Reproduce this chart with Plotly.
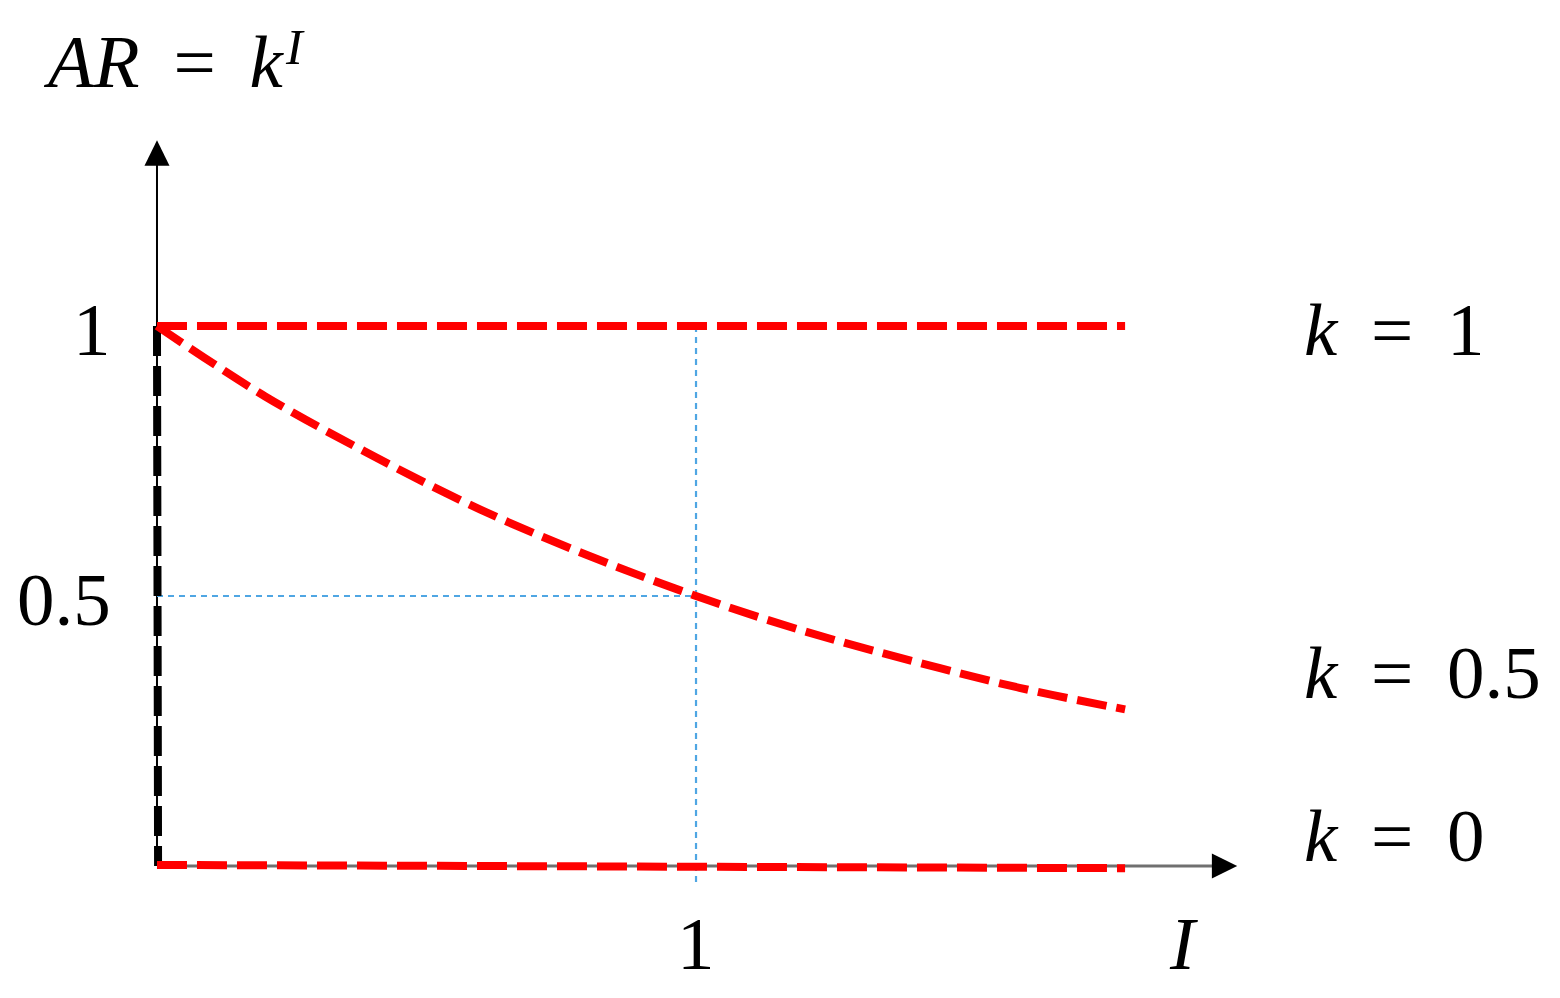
import plotly.graph_objects as go

# data
i_k1 = [0.0, 1.796]
ar_k1 = [1.0, 1.0]

i_k05 = [0.0, 0.2, 0.4, 0.6, 0.8, 1.0, 1.2, 1.4, 1.6, 1.796]
ar_k05 = [1.0, 0.87, 0.76, 0.66, 0.575, 0.5, 0.435, 0.38, 0.33, 0.29]

i_k0 = [0.0, 1.796]
ar_k0 = [0.002, -0.004]

i_zero = [0.0, 0.002]
ar_zero = [1.0, 0.0]

x_tick_vals = [1]
x_tick_text = ["1"]
y_tick_vals = [1, 0.5]
y_tick_text = ["1", "0.5"]

x_axis_end = 2.004
y_axis_end = 1.344

RED = "#FF0000"
BLUE = "#4FA6E3"
FONT = "Liberation Serif"
SP = "\u00a0\u2009"

fig = go.Figure()

# guide lines (blue dotted)
fig.add_trace(go.Scatter(
    x=[x_tick_vals[0], x_tick_vals[0]], y=[ar_k1[0], -0.03], mode="lines",
    line=dict(color=BLUE, width=2.2, dash="6px,5px"), hoverinfo="skip"
))
fig.add_trace(go.Scatter(
    x=[0, x_tick_vals[0]], y=[y_tick_vals[1], y_tick_vals[1]], mode="lines",
    line=dict(color=BLUE, width=2.2, dash="6px,5px"), hoverinfo="skip"
))

# I = 0 limit (black dashed)
fig.add_trace(go.Scatter(
    x=i_zero, y=ar_zero, mode="lines",
    line=dict(color="black", width=8, dash="30px,10px"), name="I = 0"
))

# red curves
for xs, ys, nm in [(i_k1, ar_k1, "k = 1"), (i_k05, ar_k05, "k = 0.5"), (i_k0, ar_k0, "k = 0")]:
    fig.add_trace(go.Scatter(
        x=xs, y=ys, mode="lines", line_shape="spline",
        line=dict(color=RED, width=8, dash="30px,10px"), name=nm
    ))

# axes
fig.add_shape(type="line", x0=0, y0=0, x1=x_axis_end - 0.04, y1=0,
              line=dict(color="#707070", width=3), layer="below")
fig.add_shape(type="line", x0=0, y0=0, x1=0, y1=y_axis_end - 0.04,
              line=dict(color="black", width=2), layer="below")

# arrow heads
hx, hy = 0.047, 0.0232
fig.add_shape(type="path", path=f"M {x_axis_end} 0 L {x_axis_end - hx} {hy} L {x_axis_end - hx} {-hy} Z",
              fillcolor="black", line=dict(width=0), layer="above")
fig.add_shape(type="path", path=f"M 0 {y_axis_end} L {-hy} {y_axis_end - hx} L {hy} {y_axis_end - hx} Z",
              fillcolor="black", line=dict(width=0), layer="above")

txt = dict(family=FONT, size=75, color="black")

# tick labels
for v, t in zip(y_tick_vals, y_tick_text):
    fig.add_annotation(x=-0.082, y=v - 0.006, text=t, showarrow=False,
                       xanchor="right", yanchor="middle", font=txt)
for v, t in zip(x_tick_vals, x_tick_text):
    fig.add_annotation(x=v, y=-0.144, text=t, showarrow=False,
                       xanchor="center", yanchor="middle", font=txt)

# axis titles
fig.add_annotation(x=1.904, y=-0.143, text="<i>I</i>", showarrow=False,
                   xanchor="center", yanchor="middle", font=txt)
fig.add_annotation(x=-0.215, y=1.49, text="<i>AR</i>" + SP + "=" + SP + "<i>k</i>",
                   showarrow=False, xanchor="left", yanchor="middle", font=txt)
fig.add_annotation(x=0.256, y=1.516, text="<i>I</i>", showarrow=False,
                   xanchor="center", yanchor="middle",
                   font=dict(family=FONT, size=50, color="black"))

# curve labels
for y, t in [(0.994, "1"), (0.359, "0.5"), (0.056, "0")]:
    fig.add_annotation(x=2.124, y=y, text="<i>k</i>" + SP + "=" + SP + t,
                       showarrow=False, xanchor="left", yanchor="middle", font=txt)

fig.update_layout(
    width=1544, height=982,
    margin=dict(l=0, r=0, t=0, b=0),
    paper_bgcolor="white", plot_bgcolor="white",
    showlegend=False,
    xaxis=dict(range=[-0.2764, 2.588], visible=False, fixedrange=True),
    yaxis=dict(range=[-0.2296, 1.5889], visible=False, fixedrange=True),
)

fig.write_html("out.html")
